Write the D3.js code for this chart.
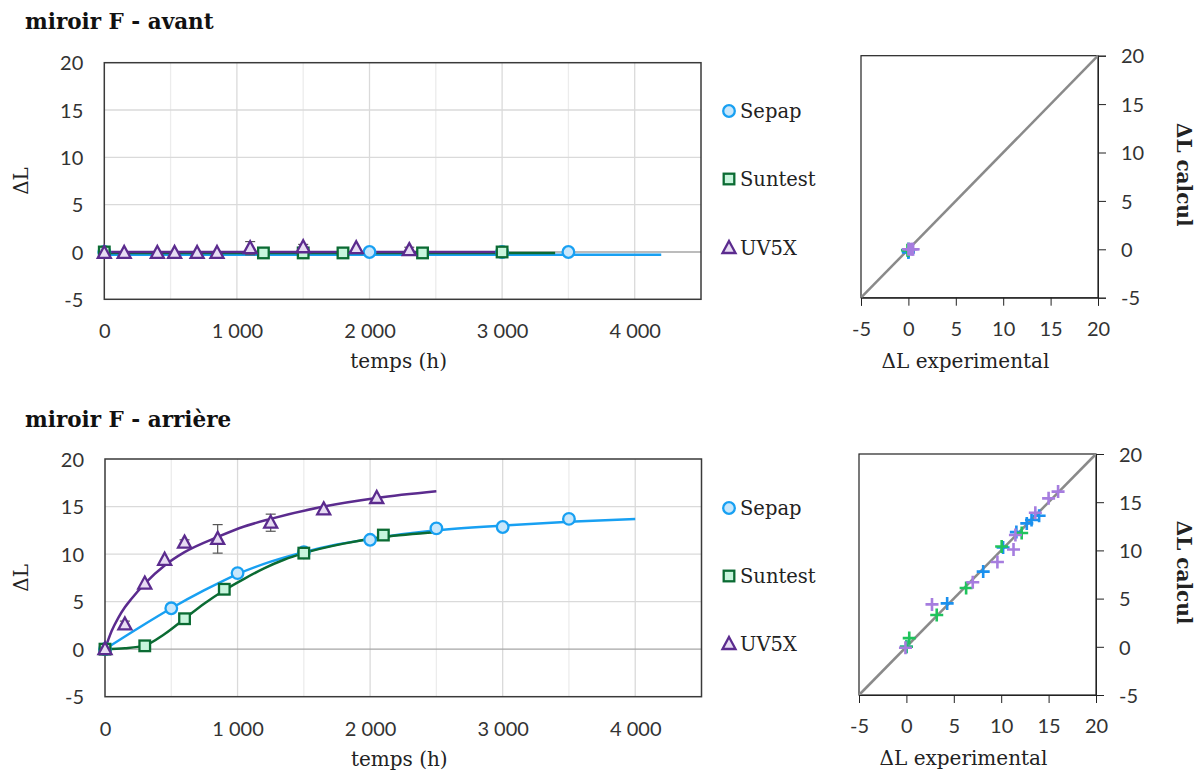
<!DOCTYPE html>
<html><head><meta charset="utf-8">
<script src="https://cdn.jsdelivr.net/npm/d3@7"></script>
<style>
body{margin:0;background:#fff;}
svg{display:block;}
.tick text{font-family:Lato,"Open Sans",sans-serif;font-size:20px;fill:#333;}
.ttl{font-family:"DejaVu Serif",serif;font-size:20px;fill:#222;}
.leg{font-family:"DejaVu Serif",serif;font-size:19.5px;fill:#222;}
.head{font-family:"DejaVu Serif",serif;font-size:21.5px;font-weight:bold;fill:#111;}
</style></head>
<body>
<svg id="c" width="1202" height="771"></svg>
<script>
// ---------- DATA ----------
const titles = ["miroir F - avant", "miroir F - arrière"];
const seriesNames = ["Sepap", "Suntest", "UV5X"];
const xTicksTime = [0, 1000, 2000, 3000, 4000];
const yTicks = [-5, 0, 5, 10, 15, 20];

// top (avant) measured
const avSepapT = [0, 2000, 3000, 3500];
const avSepapV = [0, 0, 0, 0];
const avSuntestT = [0, 1200, 1500, 1800, 2400, 3000];
const avSuntestV = [0, -0.1, -0.1, -0.1, -0.1, 0];
const avUvT = [0, 150, 400, 530, 700, 850, 1100, 1500, 1900, 2300];
const avUvV = [-0.1, -0.1, -0.1, -0.1, -0.1, -0.1, 0.4, 0.5, 0.4, 0.2];
const avUvErr = [0, 0, 0, 0, 0, 0, 0.7, 0.3, 0, 0.3];
// top (avant) fitted curves
const avSepapFitT = [0, 1000, 2000, 3000, 4200];
const avSepapFitV = [-0.3, -0.3, -0.3, -0.3, -0.3];
const avSuntestFitT = [0, 1000, 2000, 3000, 3400];
const avSuntestFitV = [-0.1, -0.1, -0.1, -0.1, -0.1];
const avUvFitT = [0, 1000, 2000, 3000];
const avUvFitV = [0, 0, 0, 0];

// bottom (arrière) measured
const arSepapT = [0, 500, 1000, 1500, 2000, 2500, 3000, 3500];
const arSepapV = [0, 4.3, 8.0, 10.2, 11.5, 12.7, 12.85, 13.7];
const arSuntestT = [0, 300, 600, 900, 1500, 2100];
const arSuntestV = [0, 0.35, 3.2, 6.3, 10.1, 12.0];
const arUvT = [0, 150, 300, 450, 600, 850, 1250, 1650, 2050];
const arUvV = [0, 2.6, 6.9, 9.4, 11.2, 11.6, 13.3, 14.7, 15.9];
const arUvErr = [0, 0.35, 0, 0, 0.3, 1.5, 0.9, 0, 0];
// bottom (arrière) fitted curves
const arSepapFitT = [0, 250, 500, 750, 1000, 1250, 1500, 1750, 2000, 2500, 3000, 3500, 4000];
const arSepapFitV = [0, 2.2, 4.3, 6.2, 7.9, 9.2, 10.2, 11.0, 11.6, 12.5, 13.0, 13.4, 13.7];
const arSuntestFitT = [0, 150, 300, 450, 600, 750, 900, 1050, 1200, 1350, 1500, 1800, 2100, 2500];
const arSuntestFitV = [0, 0.1, 0.4, 1.6, 3.2, 4.8, 6.2, 7.4, 8.5, 9.4, 10.1, 11.1, 11.8, 12.3];
const arUvFitT = [0, 25, 50, 100, 150, 200, 300, 450, 600, 850, 1050, 1250, 1650, 2050, 2500];
const arUvFitV = [0, 1.0, 1.9, 3.3, 4.4, 5.3, 6.9, 8.8, 10.2, 11.8, 12.9, 13.7, 15.0, 15.9, 16.6];

// parity plots (experimental vs calculated)
const avParSepapExp = [0, 0, 0, 0], avParSepapCalc = [0, -0.2, -0.3, -0.3];
const avParSuntestExp = [0, -0.1, 0], avParSuntestCalc = [0, -0.1, -0.1];
const avParUvExp = [0, 0.2, 0.4, 0.5], avParUvCalc = [0, 0, 0, 0];
const arParSepapExp = [0, 4.3, 8.1, 10.2, 11.6, 12.7, 13.2, 14.0];
const arParSepapCalc = [0, 4.5, 7.8, 10.3, 11.9, 12.8, 13.15, 13.6];
const arParSuntestExp = [0, 0.3, 3.2, 6.3, 10.05, 12.16];
const arParSuntestCalc = [0, 0.9, 3.3, 6.1, 10.4, 11.8];
const arParUvExp = [-0.1, 2.7, 7.0, 9.6, 11.3, 11.5, 13.6, 15.0, 16.0];
const arParUvCalc = [-0.1, 4.4, 6.7, 8.8, 10.1, 11.6, 13.9, 15.4, 16.1];

// ---------- STYLE ----------
const col = {
  Sepap: {line: "#18a0f2", fill: "#c9e7fb", cross: "#1a90ee"},
  Suntest: {line: "#0b6b33", fill: "#c8f5dd", cross: "#1fc35c"},
  UV5X: {line: "#5b2b8e", fill: "#e7dcf3", cross: "#a67ddf"}
};
const loc = d3.formatLocale({decimal: ",", thousands: " ", grouping: [3], currency: ["", ""], minus: "-"});
const fmtT = loc.format(",");
const fmtY = loc.format("d");
const zip = (a, b) => a.map((v, i) => [v, b[i]]);

const svg = d3.select("#c");

function marker(g, type, x, y, c) {
  if (type === "Sepap") {
    g.append("circle").attr("cx", x).attr("cy", y).attr("r", 5.8)
      .attr("fill", c.fill).attr("stroke", c.line).attr("stroke-width", 2.3);
  } else if (type === "Suntest") {
    g.append("rect").attr("x", x - 5.3).attr("y", y - 5.3).attr("width", 10.6).attr("height", 10.6)
      .attr("fill", c.fill).attr("stroke", c.line).attr("stroke-width", 2.3);
  } else {
    g.append("path").attr("d", `M${x},${y - 7}L${x + 6.5},${y + 5}L${x - 6.5},${y + 5}Z`)
      .attr("fill", c.fill).attr("stroke", c.line).attr("stroke-width", 2.3).attr("stroke-linejoin", "miter");
  }
}

function timePlot(cfg) {
  const x = d3.scaleLinear().domain([0, 4500]).range(cfg.xr);
  const y = d3.scaleLinear().domain([-5, 20]).range(cfg.yr);
  const g = svg.append("g");
  // gridlines
  g.selectAll(".vg").data(d3.range(500, 4500, 500)).join("line")
    .attr("x1", d => x(d)).attr("x2", d => x(d)).attr("y1", y(-5)).attr("y2", y(20))
    .attr("stroke", d => d % 1000 === 0 ? "#dadada" : "#ececec").attr("stroke-width", 1.3);
  g.selectAll(".hg").data([5, 10, 15]).join("line")
    .attr("x1", x(0)).attr("x2", x(4500)).attr("y1", d => y(d)).attr("y2", d => y(d))
    .attr("stroke", "#dadada").attr("stroke-width", 1.3);
  g.append("line").attr("x1", x(0)).attr("x2", x(4500)).attr("y1", y(0)).attr("y2", y(0))
    .attr("stroke", "#a6a6a6").attr("stroke-width", 1.3);
  g.append("rect").attr("x", x(0)).attr("y", y(20)).attr("width", x(4500) - x(0)).attr("height", y(-5) - y(20))
    .attr("fill", "none").attr("stroke", "#3a3a3a").attr("stroke-width", 1.5);
  // axes
  const ax = g.append("g").attr("transform", `translate(0,${y(-5)})`)
    .call(d3.axisBottom(x).tickValues(xTicksTime).tickFormat(fmtT).tickSize(0).tickPadding(25));
  ax.select(".domain").remove();
  const ay = g.append("g").attr("transform", `translate(${x(0)},0)`)
    .call(d3.axisLeft(y).tickValues(yTicks).tickFormat(fmtY).tickSize(0).tickPadding(21));
  ay.select(".domain").remove();
  ay.selectAll("text").attr("dy", "0.36em");
  g.append("text").attr("class", "ttl").attr("text-anchor", "middle")
    .attr("x", (x(0) + x(4500)) / 2 - 4).attr("y", y(-5) + 69).text("temps (h)");
  g.append("text").attr("class", "ttl").attr("text-anchor", "middle")
    .attr("transform", `translate(28,${(y(-5) + y(20)) / 2}) rotate(-90)`).text("ΔL");
  g.append("text").attr("class", "head").attr("x", 25).attr("y", cfg.titleY).text(cfg.title);
  // fitted curves
  const line = d3.line().x(d => x(d[0])).y(d => y(d[1])).curve(d3.curveMonotoneX);
  cfg.fits.forEach(f => {
    g.append("path").attr("d", line(f.pts)).attr("fill", "none")
      .attr("stroke", col[f.name].line).attr("stroke-width", 2.5);
  });
  // error bars
  const eb = g.append("g");
  cfg.err.t.forEach((t, i) => {
    const e = cfg.err.e[i];
    if (!e) return;
    const v = cfg.err.v[i];
    eb.append("line").attr("x1", x(t)).attr("x2", x(t)).attr("y1", y(v - e)).attr("y2", y(v + e))
      .attr("stroke", "#555").attr("stroke-width", 1.2);
    [v - e, v + e].forEach(w => eb.append("line").attr("x1", x(t) - 5).attr("x2", x(t) + 5)
      .attr("y1", y(w)).attr("y2", y(w)).attr("stroke", "#555").attr("stroke-width", 1.2));
  });
  // markers
  cfg.meas.forEach(m => {
    const mg = g.append("g");
    m.pts.forEach(p => marker(mg, m.name, x(p[0]), y(p[1]), col[m.name]));
  });
  // legend
  cfg.legY.forEach((ly, i) => {
    const n = seriesNames[i];
    const lg = g.append("g");
    marker(lg, n, 729, ly, col[n]);
    lg.append("text").attr("class", "leg").attr("x", 740).attr("y", ly + 7).text(n);
  });
}

function parityPlot(cfg) {
  const x = d3.scaleLinear().domain([-5, 20]).range(cfg.xr);
  const y = d3.scaleLinear().domain([-5, 20]).range(cfg.yr);
  const g = svg.append("g");
  g.append("rect").attr("x", x(-5)).attr("y", y(20)).attr("width", x(20) - x(-5)).attr("height", y(-5) - y(20))
    .attr("fill", "none").attr("stroke", "#222").attr("stroke-width", 1.2);
  g.append("line").attr("x1", x(-5)).attr("y1", y(-5)).attr("x2", x(20)).attr("y2", y(20))
    .attr("stroke", "#8a8a8a").attr("stroke-width", 2.5);
  const ax = g.append("g").attr("transform", `translate(0,${y(-5)})`)
    .call(d3.axisBottom(x).tickValues(yTicks).tickFormat(fmtY).tickSize(8).tickPadding(16));
  ax.select(".domain").attr("stroke", "#222");
  ax.selectAll("line").attr("stroke", "#222");
  const ay = g.append("g").attr("transform", `translate(${x(20)},0)`)
    .call(d3.axisRight(y).tickValues(yTicks).tickFormat(fmtY).tickSize(8).tickPadding(15));
  ay.select(".domain").attr("stroke", "#222");
  ay.selectAll("line").attr("stroke", "#222");
  ay.selectAll("text").attr("dy", "0.36em");
  g.append("text").attr("class", "ttl").attr("text-anchor", "middle")
    .attr("x", (x(-5) + x(20)) / 2 - 14).attr("y", y(-5) + 70).text("ΔL experimental");
  g.append("text").attr("class", "ttl").attr("text-anchor", "middle").attr("font-weight", "bold")
    .attr("transform", `translate(1177,${(y(-5) + y(20)) / 2 - 2}) rotate(90)`).text("ΔL calcul");
  cfg.pts.forEach(s => {
    const c = col[s.name].cross;
    s.pts.forEach(p => {
      const px = x(p[0]), py = y(p[1]);
      g.append("path").attr("d", `M${px - 6.5},${py}H${px + 6.5}M${px},${py - 6.5}V${py + 6.5}`)
        .attr("stroke", c).attr("stroke-width", 2.6).attr("fill", "none");
    });
  });
}

timePlot({
  title: titles[0], titleY: 29, xr: [104.3, 701], yr: [299.3, 62.7], legY: [111, 179, 248],
  fits: [
    {name: "Sepap", pts: zip(avSepapFitT, avSepapFitV)},
    {name: "Suntest", pts: zip(avSuntestFitT, avSuntestFitV)},
    {name: "UV5X", pts: zip(avUvFitT, avUvFitV)}
  ],
  meas: [
    {name: "Sepap", pts: zip(avSepapT, avSepapV)},
    {name: "Suntest", pts: zip(avSuntestT, avSuntestV)},
    {name: "UV5X", pts: zip(avUvT, avUvV)}
  ],
  err: {t: avUvT, v: avUvV, e: avUvErr}
});
timePlot({
  title: titles[1], titleY: 427, xr: [105, 701.5], yr: [696.7, 459], legY: [508, 576, 644],
  fits: [
    {name: "Sepap", pts: zip(arSepapFitT, arSepapFitV)},
    {name: "Suntest", pts: zip(arSuntestFitT, arSuntestFitV)},
    {name: "UV5X", pts: zip(arUvFitT, arUvFitV)}
  ],
  meas: [
    {name: "Sepap", pts: zip(arSepapT, arSepapV)},
    {name: "Suntest", pts: zip(arSuntestT, arSuntestV)},
    {name: "UV5X", pts: zip(arUvT, arUvV)}
  ],
  err: {t: arUvT, v: arUvV, e: arUvErr}
});
parityPlot({
  xr: [861, 1098], yr: [297.7, 55.7],
  pts: [
    {name: "Sepap", pts: zip(avParSepapExp, avParSepapCalc)},
    {name: "Suntest", pts: zip(avParSuntestExp, avParSuntestCalc)},
    {name: "UV5X", pts: zip(avParUvExp, avParUvCalc)}
  ]
});
parityPlot({
  xr: [859, 1096], yr: [695, 454],
  pts: [
    {name: "Sepap", pts: zip(arParSepapExp, arParSepapCalc)},
    {name: "Suntest", pts: zip(arParSuntestExp, arParSuntestCalc)},
    {name: "UV5X", pts: zip(arParUvExp, arParUvCalc)}
  ]
});
</script>
</body></html>
